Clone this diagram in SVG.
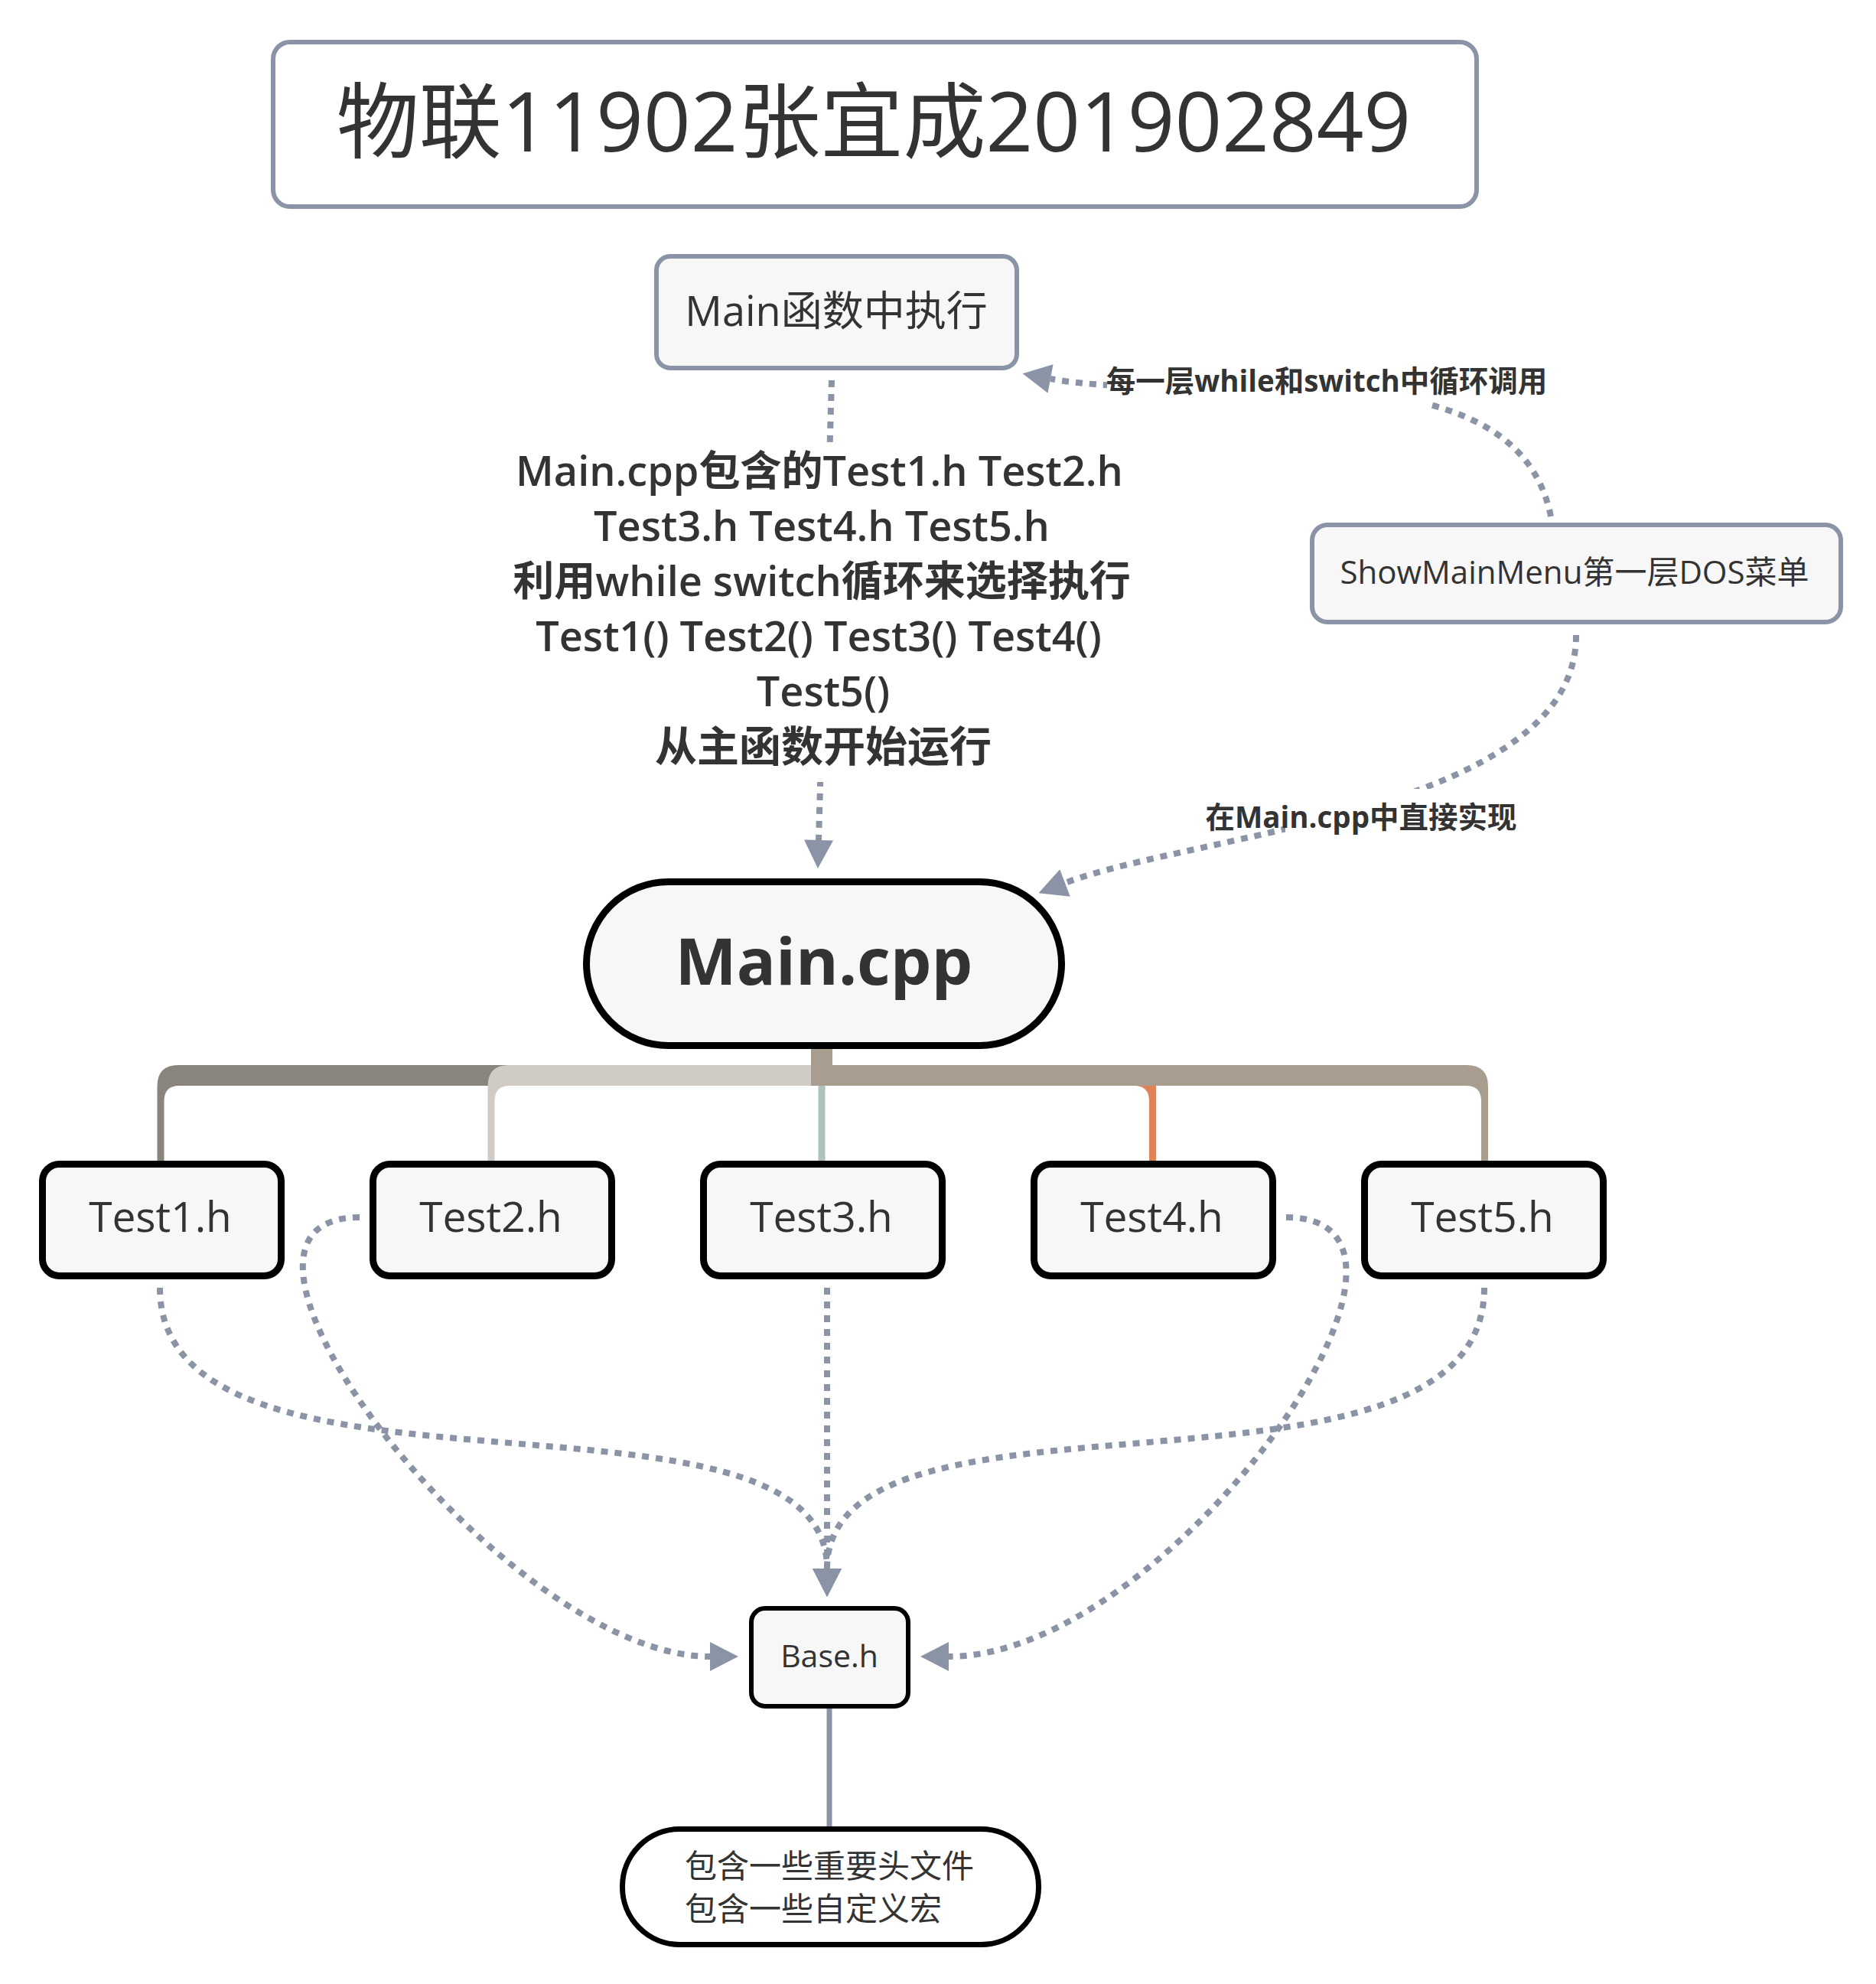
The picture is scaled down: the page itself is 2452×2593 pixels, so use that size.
<svg xmlns="http://www.w3.org/2000/svg" width="2452" height="2593" viewBox="0 0 2452 2593">
<style>
.t{font-family:"Open Sans","Noto Sans CJK SC",sans-serif;fill:#333333}
.b{font-weight:700}
.sb{font-weight:600}
.rela{fill:none;stroke:#8a94a6;stroke-width:8;stroke-dasharray:9 9;marker-end:url(#arr)}
.bg{fill:#ffffff}
.gbox{fill:#f7f7f7;stroke:#8a94a6;stroke-width:6}
.kbox{fill:#f7f7f7;stroke:#000000;stroke-width:9}
</style>
<defs>
<marker id="arr" markerUnits="userSpaceOnUse" markerWidth="38" markerHeight="38" viewBox="0 0 37 38" refX="0" refY="19" orient="auto">
<path d="M0 0 L37 19 L0 38 Z" fill="#8a94a6"/>
</marker>
</defs>
<rect width="2452" height="2593" fill="#ffffff"/>

<g id="connectors">
<path id="br-test1" fill="#89857d" d="M1074 1392 H233 Q205.5 1392 205.5 1420 V1518 H214.5 V1439 Q214.5 1419 234.5 1419 H1074 Z"/>
<path id="br-test2" fill="#d0cbc4" d="M1074 1392 H665 Q637.5 1392 637.5 1420 V1518 H646.5 V1439 Q646.5 1419 666.5 1419 H1074 Z"/>
<path id="br-test3" fill="#adc4bc" d="M1069.5 1419 H1078.5 V1518 H1069.5 Z"/>
<path id="br-test4" fill="#de8458" d="M1074 1392 H1483 Q1511 1392 1511 1420 V1518 H1502 V1439 Q1502 1419 1482 1419 H1074 Z"/>
<path id="br-test5" fill="#a99d8f" d="M1060 1366 H1088 V1392 H1917 Q1945 1392 1945 1420 V1518 H1936 V1439 Q1936 1419 1916 1419 H1060 Z"/>

<path class="rela" d="M1087 497 L1070 1098"/>
<path class="rela" d="M2027 675 C1980 440 1570 532 1373 495"/>
<path class="rela" d="M2060 830 C2061 1060 1560 1090 1392 1154"/>
<path class="rela" d="M209 1683 C209 2000 1081 1780 1081 2050"/>
<path class="rela" d="M1081 1683 L1081 2050"/>
<path class="rela" d="M1940 1683 C1940 2000 1081 1780 1081 2050"/>
<path class="rela" d="M470 1591 C220 1591 660 2165 928 2165"/>
<path class="rela" d="M1681 1591 C1931 1591 1530 2165 1240 2165"/>
<path d="M1084 2233 V2388" stroke="#8a94a6" stroke-width="7" fill="none"/>

<g id="label-main">
<rect class="bg" x="660" y="582" width="830" height="440"/>
<text class="t sb" x="1071" y="635" font-size="54" text-anchor="middle">Main.cpp<tspan class="b">包含的</tspan>Test1.h Test2.h</text>
<text class="t sb" x="1074" y="707" font-size="54" text-anchor="middle">Test3.h Test4.h Test5.h</text>
<text class="t sb" x="1074" y="779" font-size="54" text-anchor="middle"><tspan class="b">利用</tspan>while switch<tspan class="b">循环来选择执行</tspan></text>
<text class="t sb" x="1070" y="851" font-size="54" text-anchor="middle">Test1() Test2() Test3() Test4()</text>
<text class="t sb" x="1076" y="923" font-size="54" text-anchor="middle">Test5()</text>
<text class="t b" x="1076" y="995" font-size="55" text-anchor="middle">从主函数开始运行</text>
</g>
<g id="label-loop">
<rect class="bg" x="1447" y="468" width="419" height="66"/>
<text class="t b" x="1734" y="512" font-size="38.5" text-anchor="middle">每一层while和switch中循环调用</text>
</g>
<g id="label-direct">
<rect class="bg" x="1680" y="1031" width="310" height="66"/>
<text class="t b" x="1779" y="1082" font-size="38.5" text-anchor="middle">在Main.cpp中直接实现</text>
</g>
</g>

<g id="title">
<rect x="357" y="55" width="1573" height="215" rx="22" fill="#ffffff" stroke="#8a94a6" stroke-width="6"/>
<text class="t" x="1142" y="198" font-size="108" text-anchor="middle">物联11902张宜成201902849</text>
</g>

<g id="main-func">
<rect class="gbox" x="858" y="335" width="471" height="146" rx="18"/>
<text class="t" x="1093" y="426" font-size="54" text-anchor="middle">Main函数中执行</text>
</g>

<g id="show-main-menu">
<rect class="gbox" x="1715" y="686" width="691" height="127" rx="20"/>
<text class="t" x="2058" y="763" font-size="42" text-anchor="middle">ShowMainMenu第一层DOS菜单</text>
</g>

<g id="main-cpp">
<rect class="kbox" x="766.5" y="1152.5" width="621" height="214" rx="107"/>
<text class="t b" x="1077" y="1287" font-size="85" text-anchor="middle">Main.cpp</text>
</g>

<g id="test1">
<rect class="kbox" x="55.5" y="1521.5" width="312" height="146" rx="22"/>
<text class="t" x="209.5" y="1610" font-size="55" text-anchor="middle">Test1.h</text>
</g>
<g id="test2">
<rect class="kbox" x="487.5" y="1521.5" width="312" height="146" rx="22"/>
<text class="t" x="641.5" y="1610" font-size="55" text-anchor="middle">Test2.h</text>
</g>
<g id="test3">
<rect class="kbox" x="919.5" y="1521.5" width="312" height="146" rx="22"/>
<text class="t" x="1073.5" y="1610" font-size="55" text-anchor="middle">Test3.h</text>
</g>
<g id="test4">
<rect class="kbox" x="1351.5" y="1521.5" width="312" height="146" rx="22"/>
<text class="t" x="1505.5" y="1610" font-size="55" text-anchor="middle">Test4.h</text>
</g>
<g id="test5">
<rect class="kbox" x="1783.5" y="1521.5" width="312" height="146" rx="22"/>
<text class="t" x="1937.5" y="1610" font-size="55" text-anchor="middle">Test5.h</text>
</g>

<g id="base-h">
<rect x="982" y="2102" width="205" height="128" rx="18" fill="#f7f7f7" stroke="#000000" stroke-width="6"/>
<text class="t" x="1084" y="2179" font-size="41" text-anchor="middle">Base.h</text>
</g>

<g id="note">
<rect x="813.5" y="2390.5" width="544" height="151" rx="75" fill="#ffffff" stroke="#000000" stroke-width="7"/>
<text class="t" x="895" y="2454" font-size="42">包含一些重要头文件</text>
<text class="t" x="895" y="2510" font-size="42">包含一些自定义宏</text>
</g>
</svg>
